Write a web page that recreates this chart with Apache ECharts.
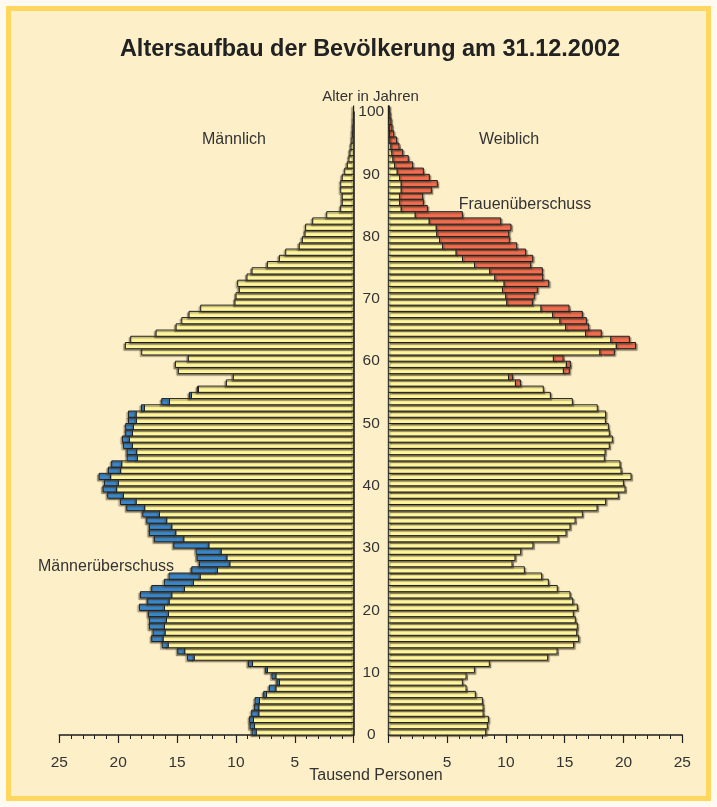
<!DOCTYPE html>
<html><head><meta charset="utf-8">
<script src="https://cdn.jsdelivr.net/npm/echarts@6/dist/echarts.min.js"></script>
<style>html,body{margin:0;padding:0;background:#fffaf0;}#c{width:717px;height:807px;}</style>
</head><body><div id="c"></div>
<script>
// Bevölkerung in Tausend, Index = Alter in Jahren (0..100)
const male = [8.63,8.80,8.83,8.66,8.41,8.38,7.64,7.16,6.51,6.94,
  7.47,8.94,14.12,14.94,16.27,17.15,17.04,17.35,17.35,17.43,
  18.20,17.49,18.11,17.15,16.08,15.68,13.75,13.10,13.30,13.39,
  15.28,16.92,17.35,17.35,17.57,17.91,19.27,19.81,20.89,21.28,
  21.17,21.62,20.83,20.55,19.24,19.24,19.56,19.64,19.36,19.36,
  19.13,19.13,18.03,16.30,13.95,13.25,10.81,10.22,14.89,15.14,
  14.04,18.00,19.39,18.93,16.78,15.08,14.60,13.98,12.99,10.08,
  9.99,9.71,9.85,9.06,8.63,7.33,6.31,5.77,4.62,4.36,
  4.13,4.08,3.48,2.29,1.10,0.97,0.97,1.10,1.10,0.97,
  0.76,0.54,0.40,0.31,0.23,0.14,0.11,0.08,0.05,0.03,0.02];
const female = [8.28,8.42,8.51,8.06,8.06,8.00,7.40,6.61,6.30,6.61,
  7.32,8.59,13.55,14.35,15.76,16.19,16.02,16.07,15.90,15.73,
  16.07,15.68,15.45,14.37,13.61,13.04,11.57,10.52,10.77,11.26,
  12.30,14.43,15.11,15.45,15.88,16.50,17.75,18.48,19.56,20.13,
  19.99,20.64,19.79,19.70,18.37,18.43,18.79,19.05,18.79,18.71,
  18.46,18.48,17.77,15.65,13.78,13.18,11.23,10.55,15.39,15.48,
  14.86,19.22,21.03,20.50,18.11,17.04,16.84,16.50,15.37,12.25,
  12.42,12.67,13.64,13.13,13.10,12.11,12.28,11.68,10.92,10.29,
  10.24,10.43,9.56,6.30,3.32,2.98,2.92,3.66,4.17,3.49,
  2.98,2.07,1.70,1.22,0.91,0.71,0.46,0.31,0.23,0.14,0.09];
const xTickLabels = ['', '5', '10', '15', '20', '25'];   // 0,5,...,25
const ageTickLabels = ['0','10','20','30','40','50','60','70','80','90','100'];

const YELLOW = '#fff59c', BLUE = '#3a86c8', RED = '#f26c4f';
const FONT = '"Liberation Sans", Arial, Helvetica, sans-serif';

const rows = male.map((m, i) => [i, m, female[i]]);

function makeRender(side) {
  return function (params, api) {
    const age = api.value(0), m = api.value(1), f = api.value(2);
    const own = side === 'm' ? m : f;
    const base = Math.min(m, f);
    const sx = side === 'm' ? -1.5 : 1.5;
    function rect(v0, v1, color) {
      const a = api.coord([v0, age + 1]);
      const b = api.coord([v1, age]);
      return {
        type: 'rect',
        shape: { x: Math.min(a[0], b[0]), y: a[1], width: Math.abs(b[0] - a[0]), height: b[1] - a[1] },
        style: { fill: color, stroke: '#1e1e1e', lineWidth: 1,
          shadowColor: 'rgba(70,60,40,0.5)', shadowOffsetX: sx, shadowOffsetY: 1.5, shadowBlur: 1 }
      };
    }
    const children = [rect(0, base, YELLOW)];
    if (own > base) children.push(rect(base, own, side === 'm' ? BLUE : RED));
    return { type: 'group', children };
  };
}

const axisLineStyle = { color: '#1e1e1e', width: 1.5 };
function xAxisCfg(gridIndex, inverse) {
  return {
    type: 'value', gridIndex, min: 0, max: 25, interval: 5, inverse,
    axisLine: { show: true, lineStyle: axisLineStyle },
    axisTick: { show: true, length: 8, lineStyle: { color: '#1e1e1e', width: 1.2 } },
    minorTick: { show: true, splitNumber: 5, length: 4, lineStyle: { color: '#1e1e1e', width: 1 } },
    splitLine: { show: false },
    axisLabel: { margin: 20, fontSize: 15.5, color: '#333', fontFamily: FONT,
      formatter: v => xTickLabels[Math.round(v / 5)] }
  };
}
function yAxisCfg(gridIndex, position, showLabel) {
  return {
    type: 'value', gridIndex, min: 0, max: 100, interval: 10, position,
    axisLine: { show: true, onZero: false, lineStyle: axisLineStyle },
    axisTick: { show: false }, splitLine: { show: false },
    axisLabel: { show: showLabel, margin: 17.5, align: 'center', fontSize: 15.5, color: '#333', fontFamily: FONT,
      formatter: v => ageTickLabels[Math.round(v / 10)] }
  };
}

const chart = echarts.init(document.getElementById('c'));
chart.setOption({
  backgroundColor: '#fffaf0',
  animation: false,
  grid: [
    { left: 59.3, right: 363.3, top: 112, bottom: 72 },
    { left: 388.3, right: 34.7, top: 112, bottom: 72 }
  ],
  xAxis: [xAxisCfg(0, true), xAxisCfg(1, false)],
  yAxis: [yAxisCfg(0, 'right', true), yAxisCfg(1, 'left', false)],
  series: [
    { type: 'custom', name: 'Männlich', xAxisIndex: 0, yAxisIndex: 0, clip: false,
      renderItem: makeRender('m'), encode: { x: 1, y: 0 }, data: rows },
    { type: 'custom', name: 'Weiblich', xAxisIndex: 1, yAxisIndex: 1, clip: false,
      renderItem: makeRender('f'), encode: { x: 2, y: 0 }, data: rows }
  ],
  graphic: [
    { type: 'rect', z: -10, silent: true, shape: { x: 8.5, y: 8.5, width: 700, height: 790 },
      style: { fill: '#fdefc8', stroke: '#ffd65e', lineWidth: 5 } },
    { type: 'text', style: { text: 'Altersaufbau der Bevölkerung am 31.12.2002', x: 370, y: 50,
      textAlign: 'center', textVerticalAlign: 'middle', font: 'bold 23.5px ' + FONT, fill: '#222' } },
    { type: 'text', style: { text: 'Alter in Jahren', x: 370.5, y: 97,
      textAlign: 'center', textVerticalAlign: 'middle', font: '15px ' + FONT, fill: '#333' } },
    { type: 'text', style: { text: 'Männlich', x: 234, y: 140,
      textAlign: 'center', textVerticalAlign: 'middle', font: '16px ' + FONT, fill: '#333' } },
    { type: 'text', style: { text: 'Weiblich', x: 509, y: 140,
      textAlign: 'center', textVerticalAlign: 'middle', font: '16px ' + FONT, fill: '#333' } },
    { type: 'text', style: { text: 'Frauenüberschuss', x: 525, y: 205,
      textAlign: 'center', textVerticalAlign: 'middle', font: '16px ' + FONT, fill: '#333' } },
    { type: 'text', style: { text: 'Männerüberschuss', x: 106, y: 567,
      textAlign: 'center', textVerticalAlign: 'middle', font: '16px ' + FONT, fill: '#333' } },
    { type: 'text', style: { text: 'Tausend Personen', x: 376, y: 776,
      textAlign: 'center', textVerticalAlign: 'middle', font: '16px ' + FONT, fill: '#333' } }
  ]
});
</script>
</body></html>
